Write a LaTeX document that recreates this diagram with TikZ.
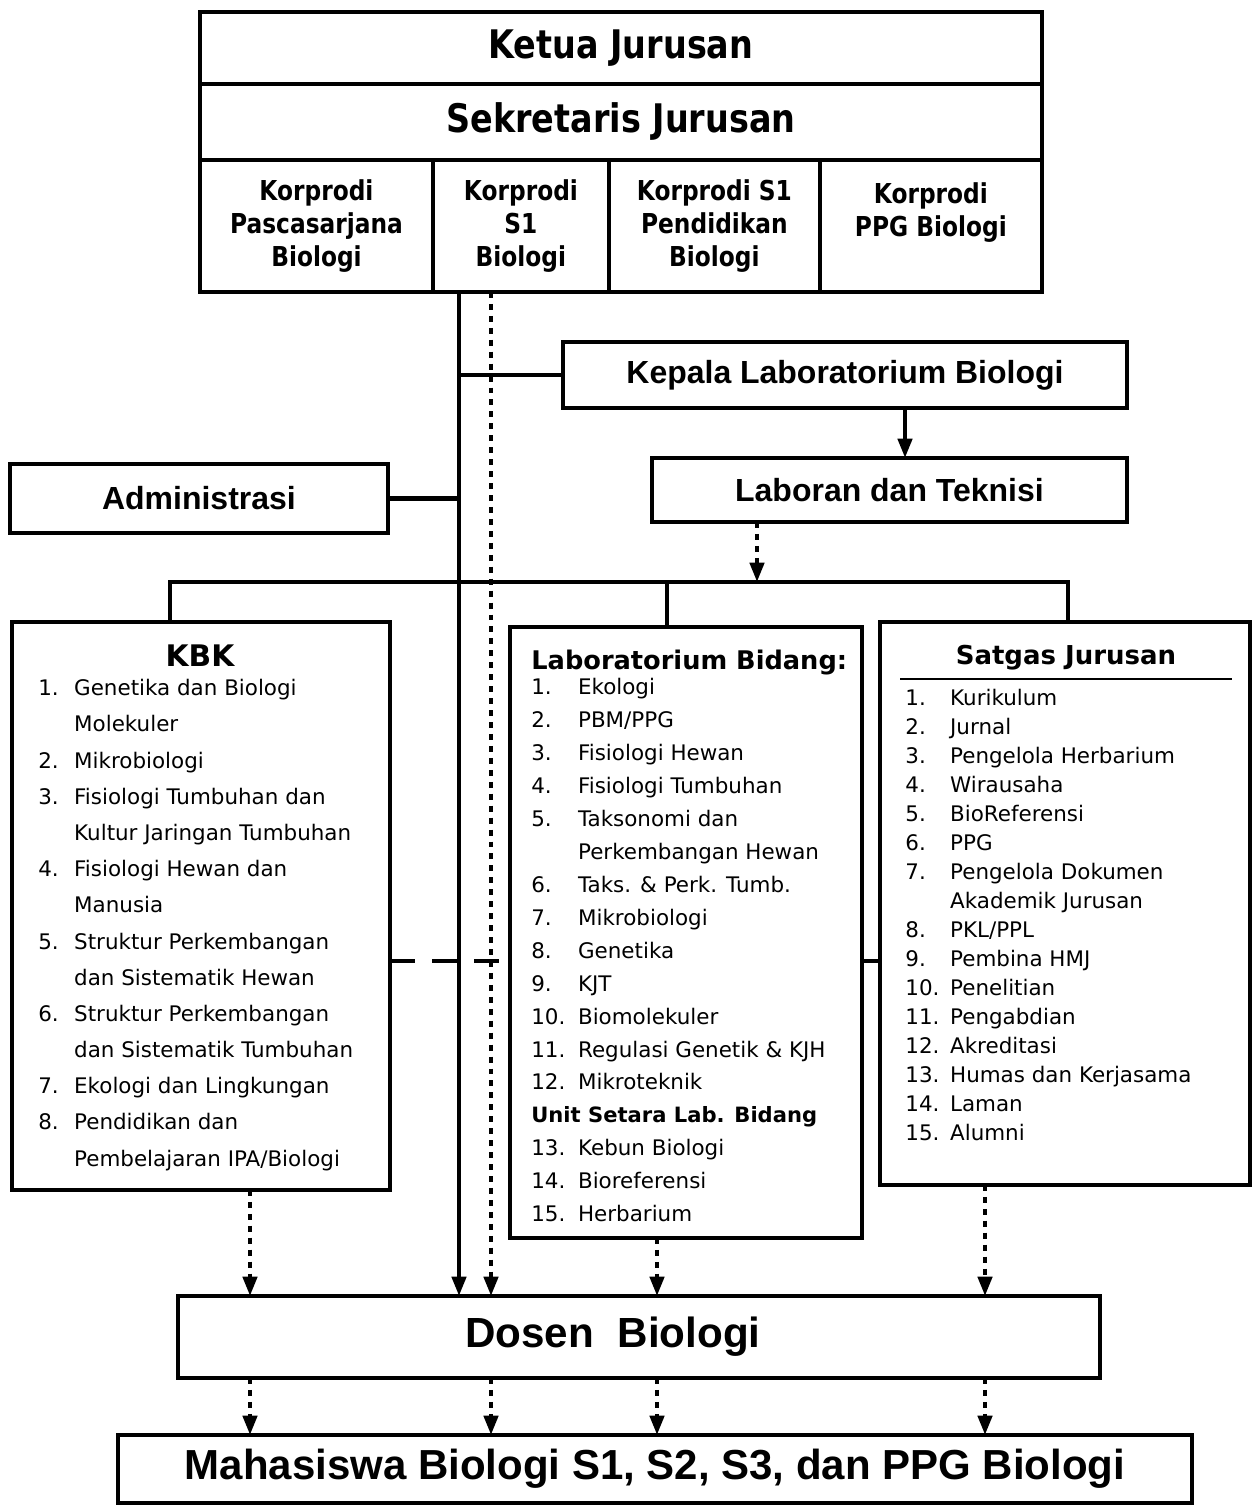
\documentclass[tikz,border=0pt]{standalone}
\usepackage{fontspec}
\setmainfont{DejaVu Sans}
\newfontfamily\headfont{DejaVu Sans}[FakeStretch=0.85]
\newfontfamily\arialfont{Liberation Sans}
\usetikzlibrary{arrows.meta,positioning}
\newlength\numw
\newcommand{\lnum}[1]{\makebox[\numw][l]{#1}}

\tikzset{
  orgbox/.style={draw, line width=2.6pt, inner sep=0pt, outer sep=0pt, anchor=north west},
  headbox/.style={orgbox, minimum width=16.84cm, font=\headfont\bfseries\fontsize{22.4}{26}\selectfont},
  kpbox/.style={orgbox, minimum height=2.64cm, align=center, font=\headfont\bfseries\fontsize{15.6}{18.7}\selectfont},
  arialbox/.style={orgbox, font=\arialfont\bfseries\fontsize{18.2}{22}\selectfont},
  listtext/.style={anchor=north west, inner sep=0pt, align=left},
  conn/.style={line width=2.4pt},
  dotconn/.style={conn, dash pattern=on 3.4pt off 3.4pt},
  arr/.style={-{Triangle[length=11pt,width=8pt]}},
}

\begin{document}
\begin{tikzpicture}[x=0.02cm, y=-0.02cm]
\useasboundingbox (0,0) rectangle (1256,1506);

% Pimpinan jurusan
\node[headbox, minimum height=1.44cm] (ketua) at (200,12) {Ketua Jurusan};
\node[headbox, minimum height=1.52cm] (sekre) at (ketua.south west) {Sekretaris Jurusan};
\node[kpbox, minimum width=4.66cm] (kp1) at (sekre.south west) {Korprodi\\Pascasarjana\\Biologi};
\node[kpbox, minimum width=3.52cm] (kp2) at (kp1.north east) {Korprodi\\S1\\Biologi};
\node[kpbox, minimum width=4.22cm] (kp3) at (kp2.north east) {Korprodi S1\\Pendidikan\\Biologi};
\node[kpbox, minimum width=4.44cm] (kp4) at (kp3.north east) {Korprodi\\PPG Biologi\\\mbox{}};

% Laboratorium dan administrasi
\node[arialbox, minimum width=11.28cm, minimum height=1.32cm] (kalab) at (563,342) {Kepala Laboratorium Biologi};
\node[arialbox, minimum width=9.5cm, minimum height=1.28cm] (laboran) at (652,458) {Laboran dan Teknisi};
\node[arialbox, minimum width=7.56cm, minimum height=1.38cm] (admin) at (10,464) {Administrasi};

% KBK
\node[orgbox, minimum width=7.56cm, minimum height=11.36cm] (kbk) at (12,622) {};
\node[font=\bfseries\fontsize{16.9}{20}\selectfont] (kbktitle) at (200,656) {KBK};
\node[listtext, font={\fontsize{12.2}{20.6}\selectfont\setlength\numw{20.4pt}}] (kbklist) at (38,679)
  {\lnum{1.}Genetika dan Biologi\\\lnum{}Molekuler\\\lnum{2.}Mikrobiologi\\
   \lnum{3.}Fisiologi Tumbuhan dan\\\lnum{}Kultur Jaringan Tumbuhan\\
   \lnum{4.}Fisiologi Hewan dan\\\lnum{}Manusia\\
   \lnum{5.}Struktur Perkembangan\\\lnum{}dan Sistematik Hewan\\
   \lnum{6.}Struktur Perkembangan\\\lnum{}dan Sistematik Tumbuhan\\
   \lnum{7.}Ekologi dan Lingkungan\\
   \lnum{8.}Pendidikan dan\\\lnum{}Pembelajaran IPA/Biologi};

% Laboratorium bidang
\node[orgbox, minimum width=7.04cm, minimum height=12.22cm] (labbid) at (510,627) {};
\node[anchor=base west, inner sep=0pt, font=\bfseries\fontsize{14.6}{18}\selectfont] (labtitle) at (531,669) {Laboratorium Bidang:};
\node[listtext, font={\fontsize{12.2}{18.75}\selectfont\setlength\numw{26.6pt}}] (lablist) at (531,678)
  {\lnum{1.}Ekologi\\\lnum{2.}PBM/PPG\\\lnum{3.}Fisiologi Hewan\\\lnum{4.}Fisiologi Tumbuhan\\
   \lnum{5.}Taksonomi dan\\\lnum{}Perkembangan Hewan\\\lnum{6.}Taks. \& Perk. Tumb.\\
   \lnum{7.}Mikrobiologi\\\lnum{8.}Genetika\\\lnum{9.}KJT\\\lnum{10.}Biomolekuler\\
   \lnum{11.}Regulasi Genetik \& KJH\\\lnum{12.}Mikroteknik\\
   {\bfseries\fontsize{12}{18.75}\selectfont Unit Setara Lab. Bidang}\\
   \lnum{13.}Kebun Biologi\\\lnum{14.}Bioreferensi\\\lnum{15.}Herbarium};

% Satgas
\node[orgbox, minimum width=7.4cm, minimum height=11.26cm] (satgas) at (880,622) {};
\node[font=\bfseries\fontsize{14.8}{18}\selectfont] (sattitle) at (1066,658) {Satgas Jurusan};
\draw[line width=0.8pt] (900,679) -- (1232,679);
\node[listtext, font={\fontsize{12.2}{16.5}\selectfont\setlength\numw{25.5pt}}] (satlist) at (905,689)
  {\lnum{1.}Kurikulum\\\lnum{2.}Jurnal\\\lnum{3.}Pengelola Herbarium\\\lnum{4.}Wirausaha\\
   \lnum{5.}BioReferensi\\\lnum{6.}PPG\\\lnum{7.}Pengelola Dokumen\\\lnum{}Akademik Jurusan\\
   \lnum{8.}PKL/PPL\\\lnum{9.}Pembina HMJ\\\lnum{10.}Penelitian\\\lnum{11.}Pengabdian\\
   \lnum{12.}Akreditasi\\\lnum{13.}Humas dan Kerjasama\\\lnum{14.}Laman\\\lnum{15.}Alumni};

% Dosen dan mahasiswa
\node[arialbox, minimum width=18.44cm, minimum height=1.64cm, font=\arialfont\bfseries\fontsize{24}{28}\selectfont] (dosen) at (178,1296) {Dosen~~Biologi\hspace*{1.04cm}};
\node[arialbox, minimum width=21.48cm, minimum height=1.36cm, font=\arialfont\bfseries\fontsize{23.9}{28}\selectfont] (mhs) at (118,1435) {Mahasiswa Biologi S1, S2, S3, dan PPG Biologi};

% Garis bantu
\coordinate (trunk) at (459,0);
\coordinate (colA) at (250,0);
\coordinate (colB) at (491,0);
\coordinate (colC) at (657,0);
\coordinate (colD) at (985,0);
\coordinate (kx) at (905,0);
\coordinate (lx) at (757,0);
\coordinate (busL) at (170,582);
\coordinate (busM) at (667,582);
\coordinate (busR) at (1068,582);
\coordinate (midrow) at (0,961);

% Connect the nodes
\draw[conn, arr] (kp2.south -| trunk) -- (dosen.north -| trunk);
\draw[dotconn, arr] (kp2.south -| colB) -- (dosen.north -| colB);
\draw[conn] (kalab.west) -- (kalab.west -| trunk);
\draw[conn] (admin.east) -- (admin.east -| trunk);
\draw[conn, arr] (kalab.south -| kx) -- (laboran.north -| kx);
\draw[dotconn, arr] (laboran.south -| lx) -- (busM -| lx);
\draw[conn] (kbk.north -| busL) -- (busL) -- (busR) -- (satgas.north -| busR);
\draw[conn] (busM) -- (labbid.north -| busM);
\draw[conn, dash pattern=on 14pt off 10pt] (kbk.east |- midrow) -- (labbid.west |- midrow);
\draw[conn] (labbid.east |- midrow) -- (satgas.west |- midrow);
\draw[dotconn, arr] (kbk.south -| colA) -- (dosen.north -| colA);
\draw[dotconn, arr] (labbid.south -| colC) -- (dosen.north -| colC);
\draw[dotconn, arr] (satgas.south -| colD) -- (dosen.north -| colD);
\foreach \c in {colA,colB,colC,colD}
  \draw[dotconn, arr] (dosen.south -| \c) -- (mhs.north -| \c);

\end{tikzpicture}
\end{document}
